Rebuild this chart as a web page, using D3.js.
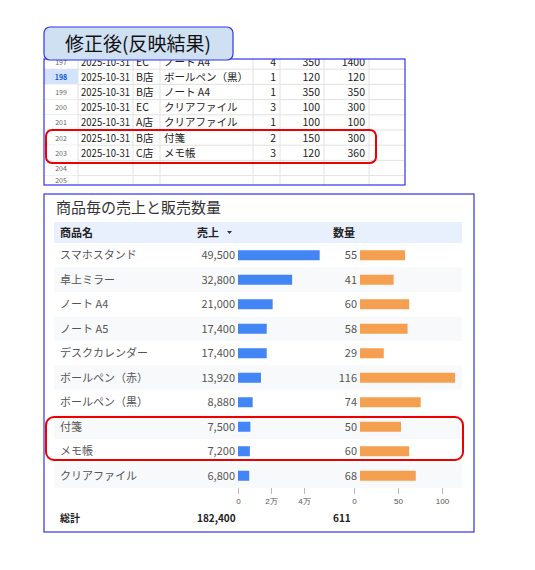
<!DOCTYPE html>
<html><head><meta charset="utf-8">
<script src="https://cdn.jsdelivr.net/npm/d3@7"></script>
<style>body{margin:0;background:#fff}svg{font-family:"Noto Sans CJK JP","Noto Sans",sans-serif}</style>
</head><body><svg id="c" width="535" height="570"></svg>
<script>
const sheetRowNums=["197","198","199","200","201","202","203","204","205"];
const sheetDates=["2025-10-31","2025-10-31","2025-10-31","2025-10-31","2025-10-31","2025-10-31","2025-10-31","",""];
const sheetStores=["EC","B店","B店","EC","A店","B店","C店","",""];
const sheetItems=["ノート A4","ボールペン（黒）","ノート A4","クリアファイル","クリアファイル","付箋","メモ帳","",""];
const sheetQty=[4,1,1,3,1,2,3,null,null];
const sheetPrice=[350,120,350,100,100,150,120,null,null];
const sheetTotal=[1400,120,350,300,100,300,360,null,null];

const products=["スマホスタンド","卓上ミラー","ノート A4","ノート A5","デスクカレンダー","ボールペン（赤）","ボールペン（黒）","付箋","メモ帳","クリアファイル"];
const sales=[49500,32800,21000,17400,17400,13920,8880,7500,7200,6800];
const qty=[55,41,60,58,29,116,74,50,60,68];
const salesTicks=[0,20000,40000];
const salesTickLabels=["0","2万","4万"];
const qtyTicks=[0,50,100];
const totalSales="182,400", totalQty="611";

const svg=d3.select("#c");
const fmt=d3.format(",");
// --- spreadsheet ---
const colX=[44,78,133,160,253,280,324,369,405];
const sy=d3.scaleLinear().domain([0,1]).range([54,69.2]);
const g=svg.append("g");
g.append("rect").attr("x",44).attr("y",59).attr("width",361).attr("height",126).attr("fill","#fff");
svg.append("clipPath").attr("id","cl").append("rect").attr("x",44).attr("y",59).attr("width",361).attr("height",126);
const gc=g.append("g").attr("clip-path","url(#cl)");
sheetRowNums.forEach((n,i)=>{
  const y0=sy(i), y1=sy(i+1);
  gc.append("rect").attr("x",44).attr("y",y0).attr("width",34).attr("height",y1-y0).attr("fill",i==1?"#d3e3fd":"#fff");
  gc.append("line").attr("x1",44).attr("x2",405).attr("y1",y1).attr("y2",y1).attr("stroke","#e2e2e2");
  const cy=(y0+y1)/2+4;
  gc.append("text").attr("x",61).attr("y",Math.min(cy-1,183)).attr("text-anchor","middle").attr("font-size",7).attr("fill",i==1?"#0b57d0":"#666").attr("font-weight",i==1?"bold":"normal").text(n);
  const t=(x,s,a)=>gc.append("text").attr("x",x).attr("y",cy).attr("font-size",10.5).attr("text-anchor",a||"start").attr("fill","#222").text(s);
  if(sheetDates[i]) gc.append("text").attr("x",81).attr("y",cy).attr("font-size",10.5).attr("fill","#222").attr("textLength",49).attr("lengthAdjust","spacingAndGlyphs").text(sheetDates[i]);
  t(136,sheetStores[i]);t(164,sheetItems[i]);
  if(sheetQty[i]!=null){t(276,sheetQty[i],"end");t(320,sheetPrice[i],"end");t(365,sheetTotal[i],"end");}
});
colX.slice(1,-1).forEach(x=>gc.append("line").attr("x1",x).attr("x2",x).attr("y1",59).attr("y2",185).attr("stroke","#e2e2e2"));
g.append("rect").attr("x",44).attr("y",59).attr("width",361).attr("height",126).attr("fill","none").attr("stroke","#3333ee").attr("stroke-width",1.2);
svg.append("rect").attr("x",44).attr("y",27).attr("width",189).attr("height",33).attr("rx",6).attr("fill","#cfe0f3").attr("stroke","#3333ee").attr("stroke-width",1.2);
svg.append("text").attr("x",138).attr("y",51).attr("text-anchor","middle").attr("font-size",19).attr("fill","#111").text("修正後(反映結果)");
svg.append("rect").attr("x",46).attr("y",130).attr("width",330).attr("height",33).attr("rx",6).attr("fill","none").attr("stroke","#e00").attr("stroke-width",2);

// --- report table ---
svg.append("rect").attr("x",44).attr("y",194).attr("width",430).attr("height",338).attr("fill","#fff").attr("stroke","#3333ee").attr("stroke-width",1.2);
svg.append("text").attr("x",56).attr("y",213).attr("font-size",15).attr("fill","#333").text("商品毎の売上と販売数量");
svg.append("rect").attr("x",54).attr("y",222).attr("width",408).attr("height",21).attr("fill","#e8f0fe");
const hd=(x,s)=>svg.append("text").attr("x",x).attr("y",237).attr("font-size",11).attr("font-weight","bold").attr("fill","#222").text(s);
hd(60,"商品名");hd(197,"売上");hd(333,"数量");
svg.append("path").attr("d","M227,231 l5,0 l-2.5,3z").attr("fill","#333");
const ry=d3.scaleBand().domain(products).range([243,488]);
const xs=d3.scaleLinear().domain([0,40000]).range([238,304]);
const xq=d3.scaleLinear().domain([0,100]).range([354,442]);
const qBar=d3.scaleLinear().domain([0,100]).range([0,82]);
products.forEach((p,i)=>{
  const y=ry(p), h=ry.bandwidth(), cy=y+h/2;
  if(i%2==1) svg.append("rect").attr("x",54).attr("y",y).attr("width",408).attr("height",h).attr("fill","#f8f9fa");
  svg.append("text").attr("x",60).attr("y",cy+4).attr("font-size",11).attr("fill","#555").text(p);
  svg.append("text").attr("x",235).attr("y",cy+4).attr("text-anchor","end").attr("font-size",11).attr("fill","#555").text(fmt(sales[i]));
  svg.append("rect").attr("x",xs(0)).attr("y",cy-5).attr("width",xs(sales[i])-xs(0)).attr("height",10).attr("fill","#4285f4");
  svg.append("text").attr("x",357).attr("y",cy+4).attr("text-anchor","end").attr("font-size",11).attr("fill","#555").text(qty[i]);
  svg.append("rect").attr("x",360).attr("y",cy-5).attr("width",qBar(qty[i])).attr("height",10).attr("fill","#f4a050");
});
const ax1=svg.append("g").attr("transform","translate(0,488)").call(d3.axisBottom(xs).tickValues(salesTicks).tickFormat((d,i)=>salesTickLabels[i]).tickSize(6));
const ax2=svg.append("g").attr("transform","translate(0,488)").call(d3.axisBottom(xq).tickValues(qtyTicks).tickSize(6));
[ax1,ax2].forEach(a=>{a.select(".domain").remove();a.selectAll("line").attr("stroke","#bbb");a.selectAll("text").attr("font-size",8).attr("fill","#555").attr("dy","0.9em");});
const ft=(x,s)=>svg.append("text").attr("x",x).attr("y",522).attr("font-size",10).attr("font-weight","bold").attr("fill","#222").text(s);
ft(60,"総計");ft(197,totalSales);ft(333,totalQty);
svg.append("rect").attr("x",46).attr("y",417).attr("width",417).attr("height",43).attr("rx",8).attr("fill","none").attr("stroke","#e00").attr("stroke-width",2);
</script></body></html>
